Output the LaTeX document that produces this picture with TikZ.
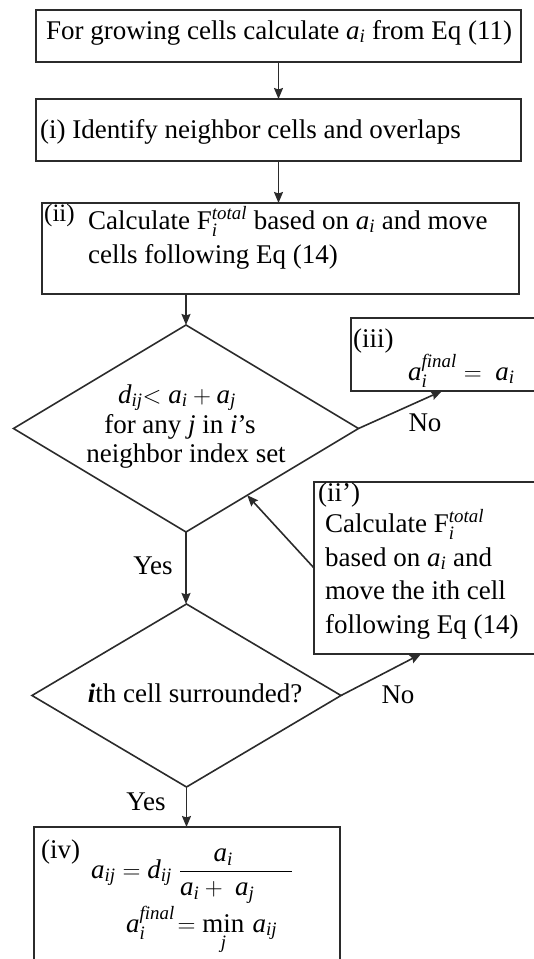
\documentclass[tikz,border=0pt]{standalone}
\usepackage{amsmath}
\usepackage{fontspec}
\setmainfont{Liberation Serif}
\usetikzlibrary{shapes.geometric,arrows.meta,calc}
\definecolor{linec}{HTML}{2B2B2B}
\newcommand\va[1]{\textit{#1}}
\begin{document}
\begin{tikzpicture}[x=1pt,y=-1pt,
  box/.style={draw=linec, line width=2pt, rectangle, inner sep=0pt, outer sep=0pt, anchor=north west},
  dia/.style={draw=linec, line width=1.6pt, diamond, inner sep=0pt, outer sep=0pt},
  txt/.style={font=\fontsize{27}{33}\selectfont, inner sep=0pt, text=black},
  arr/.style={draw=linec, line width=1.6pt, -{Stealth[length=11pt,width=9pt,inset=1.5pt]}}]
\useasboundingbox (0,0) rectangle (534,959);
% boxes
\node[box, minimum width=485pt, minimum height=52pt] (b1) at (36,10) {};
\node[box, minimum width=485pt, minimum height=62pt] (b2) at (36,99) {};
\node[box, minimum width=477pt, minimum height=91pt] (b3) at (42,203) {};
\node[box, minimum width=200pt, minimum height=73pt] (b4) at (351,318) {};
\node[box, minimum width=230pt, minimum height=172pt] (b5) at (314,482) {};
\node[box, minimum width=306pt, minimum height=145pt] (b6) at (34,827) {};
% diamonds
\node[dia, minimum width=345pt, minimum height=207pt] (d1) at (186,428.5) {};
\node[dia, minimum width=309pt, minimum height=183pt] (d2) at (186.5,695.5) {};
% texts
\node[txt, anchor=base west] (t1) at (46,39) {For growing cells calculate $\va{a}_{\va{i}}$ from Eq (11)};
\node[txt, anchor=base west] (t2) at (40,138) {(i) Identify neighbor cells and overlaps};
\node[txt, anchor=base west, font=\fontsize{25}{30}\selectfont] (t3a) at (44,221) {(ii)};
\node[txt, anchor=base west] (t3b) at (88,229) {Calculate F$_{\va{i}}^{\va{total}}$ based on $\va{a}_{\va{i}}$ and move};
\node[txt, anchor=base west] (t3c) at (88,263) {cells following Eq (14)};
\node[txt, anchor=base] (td1a) at (177,403) {$\va{d}_{\va{ij}}\mathord{<}\;\va{a}_{\va{i}} + \va{a}_{\va{j}}$};
\node[txt, anchor=base] (td1b) at (180,433) {for any \textit{j} in \textit{i}’s};
\node[txt, anchor=base] (td1c) at (186,462) {neighbor index set};
\node[txt, anchor=base west] (t4a) at (353,347) {(iii)};
\node[txt, anchor=base west] (t4b) at (408,380) {$\va{a}_{\va{i}}^{\va{final}} = \;\va{a}_{\va{i}}$};
\node[txt, anchor=base west] (t5a) at (318,501) {(ii’)};
\node[txt, anchor=base west] (t5b) at (325,532) {Calculate F$_{\va{i}}^{\va{total}}$};
\node[txt, anchor=base west] (t5c) at (325,566) {based on $\va{a}_{\va{i}}$ and};
\node[txt, anchor=base west] (t5d) at (325,599) {move the ith cell};
\node[txt, anchor=base west] (t5e) at (325,633) {following Eq (14)};
\node[txt, anchor=base] (td2) at (195,702) {\textbf{\textit{i}}th cell surrounded?};
\node[txt, anchor=base west] (t6a) at (41,858) {(iv)};
\node[txt, anchor=base west] (t6b) at (91,878) {$\va{a}_{\va{ij}} = \va{d}_{\va{ij}}\;\dfrac{\va{a}_{\va{i}}\hspace{26pt}}{\va{a}_{\va{i}} +\;\va{a}_{\va{j}}\hspace{38pt}}$};
\node[txt, anchor=base west] (t6c) at (126,932) {$\va{a}_{\va{i}}^{\va{final}}\!= \mathop{\text{min}}\limits_{\va{j}}\,\va{a}_{\va{ij}}$};
% labels
\node[txt, anchor=base] (yes1) at (153,574) {Yes};
\node[txt, anchor=base] (yes2) at (146,810) {Yes};
\node[txt, anchor=base] (no1) at (425,431) {No};
\node[txt, anchor=base] (no2) at (398,703) {No};
% arrows
\draw[arr] (b1.south) -- (b1.south |- b2.north);
\draw[arr] (b2.south) -- (b2.south |- b3.north);
\draw[arr] (b3.south -| d1.north) -- (d1.north);
\draw[arr] (d1.east) -- ([xshift=91pt]b4.south west);
\draw[arr] (b5.west) -- (d1);
\draw[arr] (d1.south) -- (d1.south |- d2.north);
\draw[arr] (d2.east) -- ([xshift=107pt]b5.south west);
\draw[arr] (d2.south) -- (d2.south |- b6.north);
\end{tikzpicture}
\end{document}
